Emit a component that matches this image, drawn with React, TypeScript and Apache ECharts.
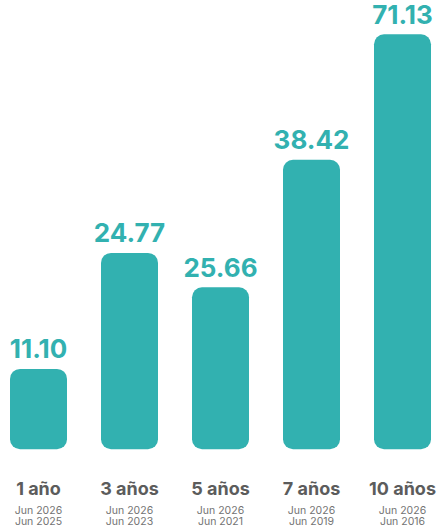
import React, { useEffect, useRef } from "react";
import * as echarts from "echarts";

const periods = ["1 año", "3 años", "5 años", "7 años", "10 años"];
const endDates = ["Jun 2026", "Jun 2026", "Jun 2026", "Jun 2026", "Jun 2026"];
const startDates = ["Jun 2025", "Jun 2023", "Jun 2021", "Jun 2019", "Jun 2016"];
const valueLabels = ["11.10", "24.77", "25.66", "38.42", "71.13"];
// bar heights as drawn (relative units)
const barHeights = [80.5, 196.7, 162.3, 290, 415.7];

const TEAL = "#32b1b0";

export default function App() {
  const ref = useRef<HTMLDivElement>(null);
  useEffect(() => {
    if (!ref.current) return;
    const chart = echarts.init(ref.current, null, { renderer: "svg" });
    chart.setOption({
      animation: false,
      grid: { left: 0, right: 0, top: 0, height: 450, containLabel: false },
      xAxis: {
        type: "category",
        data: periods,
        axisLine: { show: false },
        axisTick: { show: false },
        axisLabel: {
          interval: 0,
          margin: 24,
          formatter: (v: string, i: number) =>
            `{a|${v}}\n{b|${endDates[i]}}\n{b|${startDates[i]}}`,
          rich: {
            a: {
              fontFamily: "Inter",
              fontWeight: "bold",
              fontSize: 18,
              lineHeight: 31,
              color: "#5c5c5c",
            },
            b: {
              fontFamily: "Inter",
              fontSize: 10.5,
              lineHeight: 11.5,
              color: "#737373",
            },
          },
        },
      },
      yAxis: {
        type: "value",
        min: 0,
        max: 450,
        show: false,
        splitLine: { show: false },
      },
      series: [
        {
          type: "bar",
          data: barHeights,
          barWidth: 57,
          itemStyle: { color: TEAL, borderRadius: 10 },
          label: {
            show: true,
            position: "top",
            distance: 7,
            formatter: (p: any) => valueLabels[p.dataIndex],
            fontFamily: "Inter",
            fontWeight: "bold",
            fontSize: 26,
            color: TEAL,
          },
        },
      ],
    });
    return () => chart.dispose();
  }, []);
  return (
    <div
      ref={ref}
      style={{ position: "fixed", left: -7, top: 0, width: 455, height: 527, background: "#fff" }}
    />
  );
}
